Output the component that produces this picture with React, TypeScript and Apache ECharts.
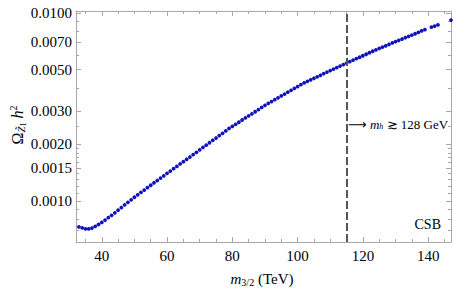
import React, { useEffect, useRef } from 'react';
import * as echarts from 'echarts';

// m_{3/2} in TeV
const m32 = [
  33, 34, 35, 36, 37, 38, 39, 40, 41, 42, 43, 44, 45, 46, 47, 48, 49, 50,
  51, 52, 53, 54, 55, 56, 57, 58, 59, 60, 61, 62, 63, 64, 65, 66, 67, 68, 69, 70,
  71, 72, 73, 74, 75, 76, 77, 78, 79, 80, 81, 82, 83, 84, 85, 86, 87, 88, 89, 90,
  91, 92, 93, 94, 95, 96, 97, 98, 99, 100, 101, 102, 103, 104, 105, 106, 107, 108, 109, 110,
  111, 112, 113, 114, 115, 116, 117, 118, 119, 120, 121, 122, 123, 124, 125, 126, 127, 128, 129, 130,
  131, 132, 133, 134, 135, 136, 137, 138, 139, 141, 142, 143, 147,
];
// Omega h^2
const omega = [
  0.000728, 0.000719, 0.000711, 0.000710, 0.000718, 0.000733, 0.000750, 0.000769, 0.000791, 0.000815,
  0.000839, 0.000865, 0.000893, 0.000923, 0.000953, 0.000984, 0.001014, 0.001047,
  0.001079, 0.001112, 0.001143, 0.001178, 0.001213, 0.001250, 0.001285, 0.001324, 0.001361, 0.001403,
  0.001442, 0.001486, 0.001528, 0.001574, 0.001618, 0.001667, 0.001714, 0.001766, 0.001816, 0.001871,
  0.001928, 0.001982, 0.002042, 0.002104, 0.002163, 0.002228, 0.002291, 0.002360, 0.002432, 0.002495,
  0.002559, 0.002624, 0.002698, 0.002767, 0.002838, 0.002911, 0.002985, 0.003062, 0.003148, 0.003228,
  0.003304, 0.003381, 0.003459, 0.003540, 0.003622, 0.003707, 0.003793, 0.003882, 0.003972, 0.004064,
  0.004159, 0.004256, 0.004335, 0.004416, 0.004498, 0.004581, 0.004667, 0.004764, 0.004853, 0.004943,
  0.005035, 0.005129, 0.005224, 0.005321, 0.005420, 0.005521, 0.005623, 0.005728, 0.005821, 0.005929,
  0.006039, 0.006152, 0.006266, 0.006368, 0.006486, 0.006592, 0.006699, 0.006808, 0.006934, 0.007047,
  0.007161, 0.007278, 0.007396, 0.007516, 0.007638, 0.007762, 0.007889, 0.008035, 0.008166,
  0.008414, 0.008531, 0.008650, 0.009183,
];

const xMajorTicks = [40, 60, 80, 100, 120, 140];
const xMinorTicks = [35, 45, 50, 55, 65, 70, 75, 85, 90, 95, 105, 110, 115, 125, 130, 135, 145];
const yMajorTicks = [0.001, 0.0015, 0.002, 0.003, 0.005, 0.007, 0.01];
const yMinorTicks = [
  0.0007, 0.0008, 0.0009, 0.0011, 0.0012, 0.0013, 0.0014, 0.0016, 0.0017, 0.0018, 0.0019,
  0.0025, 0.004, 0.006, 0.008, 0.009,
];
const xRange = [32.1, 147];
const yRange = [0.000605, 0.01026];
const higgsBoundM32 = 115;

const SERIF = 'Liberation Serif';
const FRAME = '#a8a8a8';

export default function App() {
  const ref = useRef<HTMLDivElement>(null);

  useEffect(() => {
    if (!ref.current) return;
    const chart = echarts.init(ref.current, null, { renderer: 'svg' });
    const lg = (v: number) => Math.log10(v);

    const xAxisBase = (position: string, ticks: number[], len: number, labels: boolean, line: boolean) => ({
      type: 'value',
      min: xRange[0],
      max: xRange[1],
      position,
      axisLine: { show: line, lineStyle: { color: FRAME, width: 1 } },
      axisTick: { show: true, inside: true, length: len, customValues: ticks, lineStyle: { color: FRAME } },
      axisLabel: labels
        ? { show: true, customValues: ticks, margin: 6, color: '#000', fontFamily: SERIF, fontSize: 15 }
        : { show: false },
      splitLine: { show: false },
    });
    const yAxisBase = (position: string, ticks: number[], len: number, labels: boolean, line: boolean) => ({
      type: 'value',
      min: lg(yRange[0]),
      max: lg(yRange[1]),
      position,
      axisLine: { show: line, lineStyle: { color: FRAME, width: 1 } },
      axisTick: { show: true, inside: true, length: len, customValues: ticks.map(lg), lineStyle: { color: FRAME } },
      axisLabel: labels
        ? {
            show: true,
            customValues: ticks.map(lg),
            margin: 4,
            color: '#000',
            fontFamily: SERIF,
            fontSize: 15,
            formatter: (v: number) => Math.pow(10, v).toFixed(4),
          }
        : { show: false },
      splitLine: { show: false },
    });

    chart.setOption({
      animation: false,
      grid: { left: 76, right: 3, top: 11, bottom: 48, containLabel: false },
      xAxis: [
        xAxisBase('bottom', xMajorTicks, 5, true, true),
        xAxisBase('bottom', xMinorTicks, 3, false, false),
        xAxisBase('top', xMajorTicks, 5, false, true),
        xAxisBase('top', xMinorTicks, 3, false, false),
      ],
      yAxis: [
        yAxisBase('left', yMajorTicks, 5, true, true),
        yAxisBase('left', yMinorTicks, 3, false, false),
        yAxisBase('right', yMajorTicks, 5, false, true),
        yAxisBase('right', yMinorTicks, 3, false, false),
      ],
      series: [
        {
          type: 'scatter',
          xAxisIndex: 0,
          yAxisIndex: 0,
          symbol: 'circle',
          symbolSize: 3.8,
          itemStyle: { color: '#1010bc', opacity: 1 },
          data: m32.map((x, i) => [x, lg(omega[i])]),
          markLine: {
            silent: true,
            symbol: 'none',
            label: { show: false },
            lineStyle: { color: '#555555', width: 2, type: [8, 3] },
            data: [{ xAxis: higgsBoundM32 }],
          },
        },
      ],
      graphic: [
        {
          type: 'text',
          x: 262,
          y: 279,
          style: {
            text: '{i|m}{s|3/2} (TeV)',
            fontFamily: SERIF,
            fontSize: 15,
            fill: '#000',
            align: 'center',
            verticalAlign: 'middle',
            rich: {
              i: { fontFamily: SERIF, fontSize: 15, fontStyle: 'italic', fill: '#000' },
              s: { fontFamily: SERIF, fontSize: 10, fill: '#000', padding: [7, 0, 0, 0] },
            },
          },
        },
        {
          type: 'text',
          x: 17,
          y: 125,
          rotation: Math.PI / 2,
          style: {
            text: '{o|Ω}{s|Z\u0303}{t|1}{i| h}{p|2}',
            fontFamily: SERIF,
            fontSize: 16,
            fill: '#000',
            align: 'center',
            verticalAlign: 'middle',
            rich: {
              o: { fontFamily: SERIF, fontSize: 16, fill: '#000' },
              s: { fontFamily: SERIF, fontSize: 11, fontStyle: 'italic', fill: '#000', padding: [8, 0, 0, 0] },
              t: { fontFamily: SERIF, fontSize: 8, fill: '#000', padding: [12, 0, 0, 0] },
              i: { fontFamily: SERIF, fontSize: 16, fontStyle: 'italic', fill: '#000' },
              p: { fontFamily: SERIF, fontSize: 10, fill: '#000', padding: [0, 0, 8, 0] },
            },
          },
        },
        {
          type: 'text',
          x: 348,
          y: 124,
          style: {
            text: '{a|⟶}{i| m}{s|h}{n| ≳ 128 GeV}',
            fontFamily: SERIF,
            fontSize: 13,
            fill: '#000',
            align: 'left',
            verticalAlign: 'middle',
            rich: {
              a: { fontFamily: 'DejaVu Sans', fontSize: 13, fill: '#000' },
              i: { fontFamily: SERIF, fontSize: 13, fontStyle: 'italic', fill: '#000' },
              s: { fontFamily: SERIF, fontSize: 8, fontStyle: 'italic', fill: '#000', padding: [5, 0, 0, 0] },
              n: { fontFamily: SERIF, fontSize: 13, fill: '#000' },
            },
          },
        },
        {
          type: 'text',
          x: 441,
          y: 224,
          style: {
            text: 'CSB',
            fontFamily: SERIF,
            fontSize: 14,
            fill: '#000',
            align: 'right',
            verticalAlign: 'middle',
          },
        },
      ],
    });

    return () => chart.dispose();
  }, []);

  return (
    <div
      ref={ref}
      style={{ position: 'fixed', left: 0, top: 0, width: 454, height: 290, background: '#fff' }}
    />
  );
}
